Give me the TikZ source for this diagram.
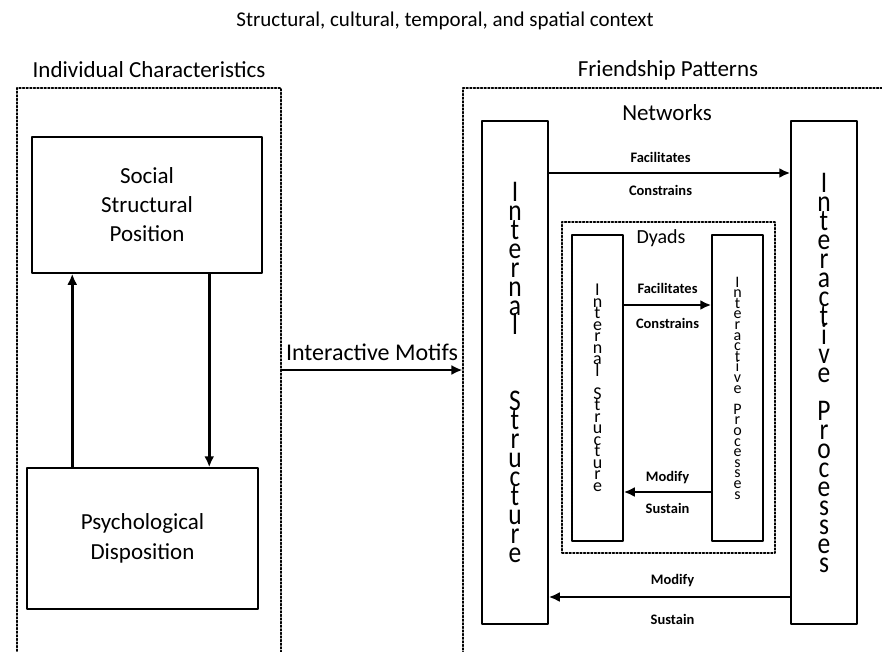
\documentclass[tikz,border=0pt]{standalone}
\usepackage{fontspec}
\setmainfont{Carlito}
\newfontfamily\tallfont[FakeStretch=0.85]{Carlito}
\usetikzlibrary{arrows.meta}
\tikzset{
  box/.style={draw,line width=1.5pt,inner sep=0pt,align=center},
  dotbox/.style={draw,line width=1.1pt,dash pattern=on 2pt off 1.6pt,inner sep=0pt},
  flow/.style={line width=2.7pt,-{Latex[length=11pt,width=10pt]}},
  lbl/.style={inner sep=1pt,font=\bfseries\fontsize{14.5}{16}\selectfont},
  head/.style={font=\fontsize{23}{26}\selectfont},
  bigstack/.style={font={\tallfont\fontsize{30}{19}\selectfont\lineskiplimit=-60pt}},
  smallstack/.style={font={\fontsize{18}{11.5}\selectfont\lineskiplimit=-60pt}},
}

\begin{document}
\begin{tikzpicture}[x=1pt,y=-1pt,line cap=round,line join=round]
\useasboundingbox (0,0) rectangle (882,651);
\clip (0,0) rectangle (882,651);

% headings
\node[font=\fontsize{21}{24}\selectfont] (context) at (445,21) {Structural, cultural, temporal, and spatial context};
\node[head] (indivhead) at (149,70) {Individual Characteristics};
\node[head] (friendhead) at (668,70) {Friendship Patterns};

% individual characteristics
\node[dotbox,minimum width=264pt,minimum height=592pt] (indiv) at (149,384) {};
\node[box,head,minimum width=230pt,minimum height=136pt,font=\fontsize{23}{29}\selectfont] (social) at (147,205) {Social\\Structural\\Position};
\node[box,head,minimum width=231pt,minimum height=141pt,font=\fontsize{23}{30}\selectfont] (psych) at (142.5,538.5) {Psychological\\Disposition};
\draw[flow] ([xshift=46pt]psych.north west) -- ([xshift=41pt]social.south west);
\draw[flow] ([xshift=178pt]social.south west) -- ([xshift=183pt]psych.north west);

% friendship patterns
\node[dotbox,minimum width=432pt,minimum height=592pt] (friend) at (679,384) {};
\draw[flow] ([yshift=14pt]indiv.east) -- ([yshift=14pt]friend.west)
  node[midway,above=5pt,font=\fontsize{24}{26}\selectfont] {Interactive Motifs};

% networks
\node[head] (networks) at (667,113) {Networks};
\node[box,bigstack,minimum width=66pt,minimum height=503pt] (intstr) at (515,372.5)
  {I\\n\\t\\e\\r\\n\\a\\l\\[57pt]S\\t\\r\\u\\c\\t\\u\\r\\e};
\node[box,bigstack,minimum width=66pt,minimum height=503pt] (intproc) at (824,372.5)
  {I\\n\\t\\e\\r\\a\\c\\t\\i\\v\\e\\[19pt]P\\r\\o\\c\\e\\s\\s\\e\\s};
\draw[flow] ([yshift=199.5pt]intstr.east) -- ([yshift=199.5pt]intproc.west)
  node[lbl,midway,above=8pt,xshift=-9pt] {Facilitates}
  node[lbl,midway,below=10pt,xshift=-9pt] {Constrains};
\draw[flow] ([yshift=-224.5pt]intproc.west) -- ([yshift=-224.5pt]intstr.east)
  node[lbl,midway,above=8pt,xshift=3pt] {Modify}
  node[lbl,midway,below=15pt,xshift=3pt] {Sustain};

% dyads
\node[dotbox,minimum width=213pt,minimum height=331pt] (dyads) at (668.5,387.5) {};
\node[font=\fontsize{20}{22}\selectfont] (dyadhead) at (661,238) {Dyads};
\node[box,smallstack,minimum width=51pt,minimum height=306pt] (intstrD) at (597.5,388)
  {I\\n\\t\\e\\r\\n\\a\\l\\[11.5pt]S\\t\\r\\u\\c\\t\\u\\r\\e};
\node[box,smallstack,font={\fontsize{16}{10.6}\selectfont\lineskiplimit=-60pt},minimum width=51pt,minimum height=306pt] (intprocD) at (737.5,388)
  {I\\n\\t\\e\\r\\a\\c\\t\\i\\v\\e\\[10.6pt]P\\r\\o\\c\\e\\s\\s\\e\\s};
\draw[flow] ([yshift=83pt]intstrD.east) -- ([yshift=83pt]intprocD.west)
  node[lbl,midway,above=9pt] {Facilitates}
  node[lbl,midway,below=11pt] {Constrains};
\draw[flow] ([yshift=-104pt]intprocD.west) -- ([yshift=-104pt]intstrD.east)
  node[lbl,midway,above=6pt] {Modify}
  node[lbl,midway,below=9pt] {Sustain};
\end{tikzpicture}
\end{document}
